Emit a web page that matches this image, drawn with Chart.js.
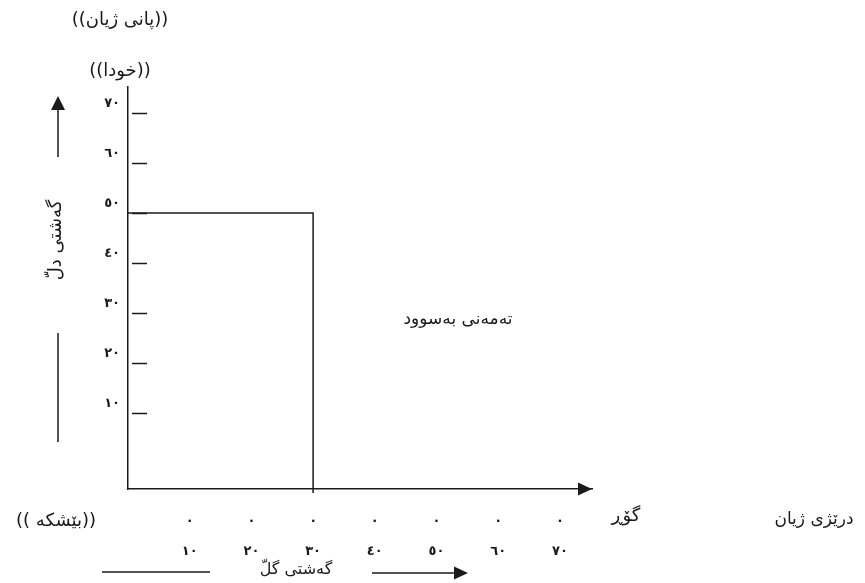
<!DOCTYPE html>
<html>
<head>
<meta charset="utf-8">
<script src="https://cdn.jsdelivr.net/npm/chart.js@4"></script>
<style>
  html, body { margin: 0; padding: 0; background: #fff; }
  #wrap { width: 865px; height: 583px; position: relative; }
</style>
</head>
<body>
<div id="wrap"><canvas id="chart"></canvas></div>
<script>
const FONT = "'DejaVu Sans', sans-serif";
const INK = '#1a1a1a';

// tick values and their labels (Arabic-Indic digits)
const yTicks = [10, 20, 30, 40, 50, 60, 70];
const yLabels = ['١٠', '٢٠', '٣٠', '٤٠', '٥٠', '٦٠', '٧٠'];
const xTicks = [10, 20, 30, 40, 50, 60, 70];
const xLabels = ['١٠', '٢٠', '٣٠', '٤٠', '٥٠', '٦٠', '٧٠'];

// the "useful life" box: from birth to age 30, height 50
const boxX = [0, 30, 30];
const boxY = [50, 50, -6];

// texts around the diagram
const topTitle = '((پانی ژیان))';
const topSub = '((خودا))';
const yTitle = 'گەشتی دلّ';
const xTitle = 'گەشتی گلّ';
const startLabel = '((بێشکە ))';
const endLabel = 'گۆڕ';
const lengthLabel = 'درێژی ژیان';
const areaLabel = 'تەمەنی بەسوود';

const line = (ctx, x1, y1, x2, y2) => {
  ctx.beginPath();
  ctx.moveTo(x1, y1);
  ctx.lineTo(x2, y2);
  ctx.stroke();
};

const arrowHead = (ctx, x, y, dir) => {
  // dir: 'right' or 'up', tip at (x, y)
  ctx.beginPath();
  if (dir === 'right') {
    ctx.moveTo(x, y);
    ctx.lineTo(x - 14, y - 6.5);
    ctx.lineTo(x - 14, y + 6.5);
  } else {
    ctx.moveTo(x, y);
    ctx.lineTo(x - 7, y + 14);
    ctx.lineTo(x + 7, y + 14);
  }
  ctx.closePath();
  ctx.fill();
};

const text = (ctx, str, x, y, size) => {
  ctx.font = size + 'px ' + FONT;
  ctx.fillText(str, x, y);
};

const decorations = {
  id: 'decorations',
  afterDraw(chart) {
    const ctx = chart.ctx;
    const area = chart.chartArea;
    const ys = chart.scales.y;
    ctx.save();
    ctx.strokeStyle = INK;
    ctx.fillStyle = INK;
    ctx.lineWidth = 1.5;

    // short dashes right of the y axis
    yTicks.forEach((v) => {
      const py = Math.round(ys.getPixelForValue(v)) + 0.5;
      line(ctx, area.left + 4, py, area.left + 19, py);
    });

    // arrow at the end of the x axis
    arrowHead(ctx, area.right, area.bottom, 'right');

    // arrow and line beside the y title
    line(ctx, 58, 157, 58, 108);
    arrowHead(ctx, 58, 96, 'up');
    line(ctx, 58, 333, 58, 442);

    // line and arrow beside the x title
    line(ctx, 102, 572, 210, 572);
    line(ctx, 372, 573, 456, 573);
    arrowHead(ctx, 468, 573, 'right');

    // texts
    ctx.direction = 'rtl';
    ctx.textAlign = 'center';
    ctx.textBaseline = 'middle';
    text(ctx, topTitle, 120, 20, 18);
    text(ctx, topSub, 120, 71, 18);
    text(ctx, startLabel, 56, 521, 18);
    text(ctx, endLabel, 626, 516, 18);
    text(ctx, lengthLabel, 814, 520, 17);
    text(ctx, areaLabel, 458, 320, 17);
    text(ctx, xTitle, 296, 570, 16);

    ctx.save();
    ctx.translate(56, 240);
    ctx.rotate(-Math.PI / 2);
    text(ctx, yTitle, 0, 0, 18);
    ctx.restore();

    ctx.restore();
  },
};

new Chart(document.getElementById('chart'), {
  type: 'line',
  data: {
    datasets: [
      {
        data: boxX.map((x, i) => ({ x: x, y: boxY[i] })),
        borderColor: INK,
        borderWidth: 1.5,
        pointRadius: 0,
        fill: false,
        tension: 0,
        clip: false,
      },
    ],
  },
  options: {
    responsive: true,
    maintainAspectRatio: false,
    animation: false,
    layout: { padding: { top: 87, right: 273, left: 0, bottom: 0 } },
    plugins: {
      legend: { display: false },
      tooltip: { enabled: false },
    },
    scales: {
      x: {
        type: 'linear',
        min: 0,
        max: 75.2,
        afterBuildTicks: (scale) => {
          scale.ticks = xTicks.map((v) => ({ value: v }));
        },
        afterFit: (scale) => {
          scale.height = 94;
        },
        grid: { display: false, drawTicks: false },
        border: { display: true, color: INK, width: 1.5 },
        ticks: {
          autoSkip: false,
          maxRotation: 0,
          padding: 13,
          color: INK,
          font: { family: FONT, size: 13, weight: 'bold', lineHeight: 2.55 },
          callback: (v) => ['.', xLabels[xTicks.indexOf(v)]],
        },
      },
      y: {
        type: 'linear',
        min: -5.2,
        max: 75.2,
        afterBuildTicks: (scale) => {
          scale.ticks = yTicks.map((v) => ({ value: v }));
        },
        afterFit: (scale) => {
          scale.width = 128;
        },
        grid: { display: false, drawTicks: false },
        border: { display: true, color: INK, width: 1.5 },
        ticks: {
          autoSkip: false,
          padding: 8,
          labelOffset: -9,
          color: INK,
          font: { family: FONT, size: 13, weight: 'bold' },
          callback: (v) => yLabels[yTicks.indexOf(v)],
        },
      },
    },
  },
  plugins: [decorations],
});
</script>
</body>
</html>
